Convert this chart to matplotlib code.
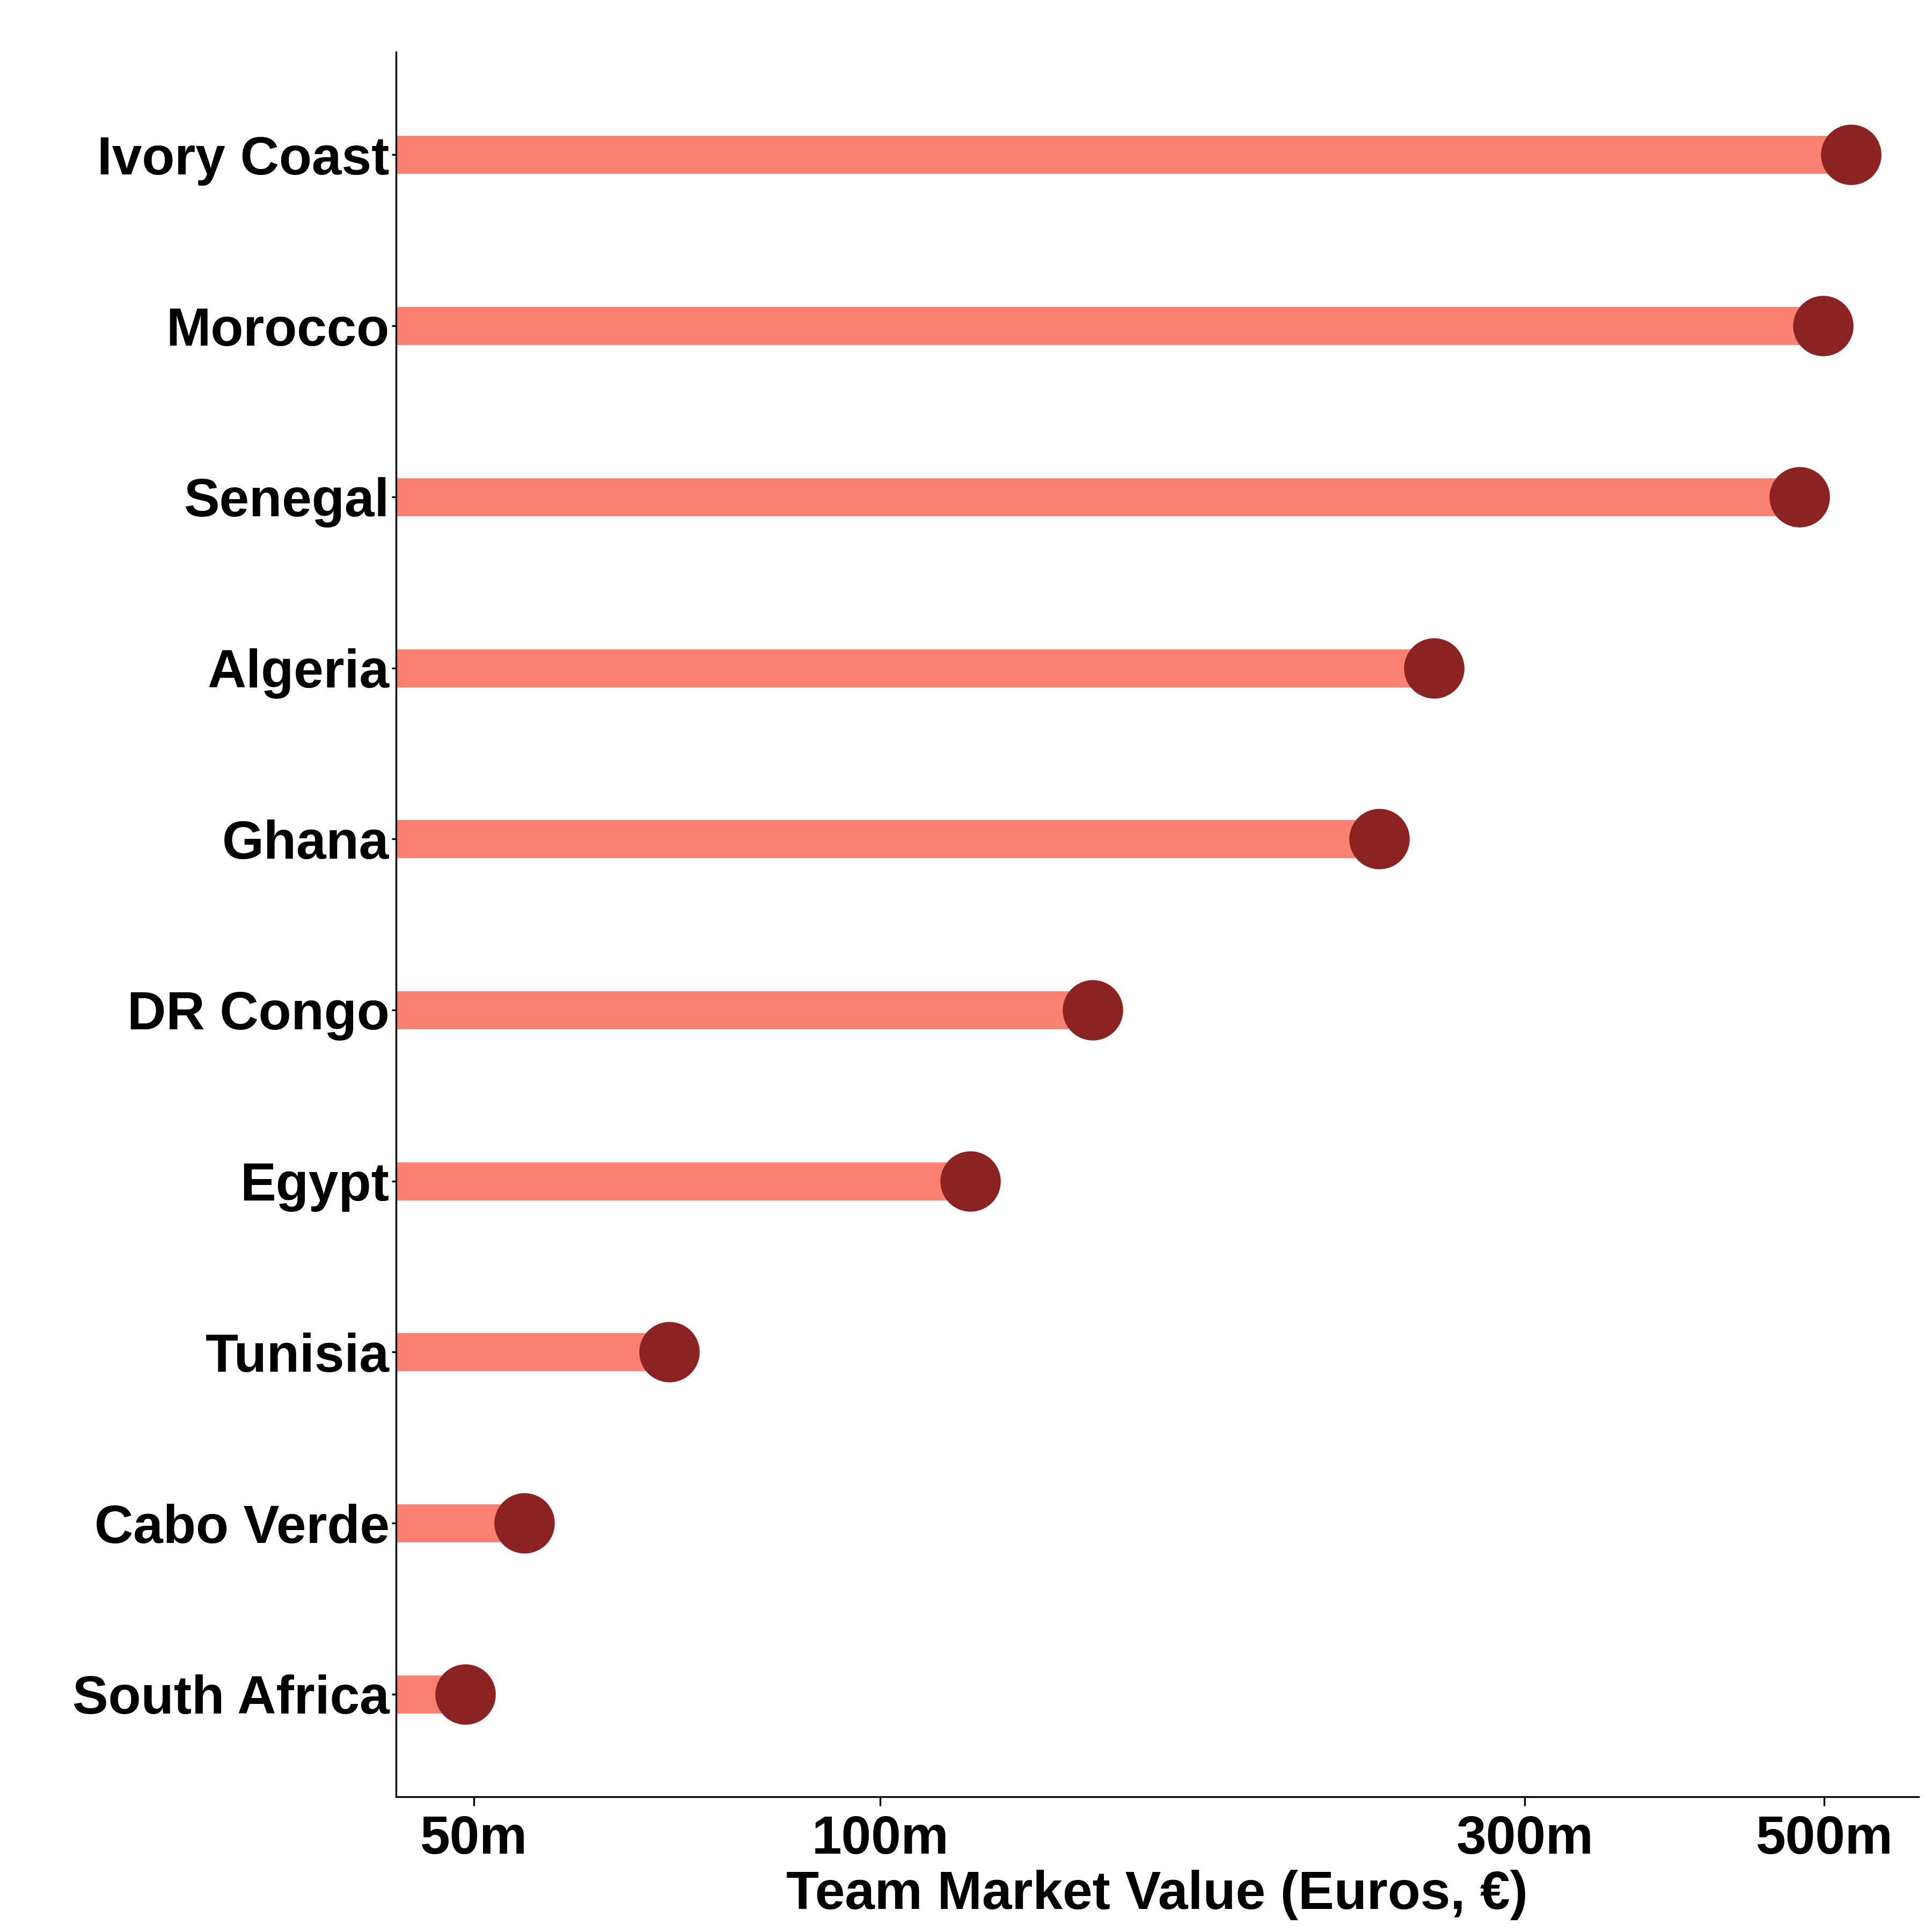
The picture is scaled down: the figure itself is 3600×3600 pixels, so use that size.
import matplotlib
matplotlib.use("Agg")
import matplotlib.pyplot as plt
from matplotlib.ticker import FixedLocator, FixedFormatter, NullLocator

# Данные
countries = ["Ivory Coast", "Morocco", "Senegal", "Algeria", "Ghana",
             "DR Congo", "Egypt", "Tunisia", "Cabo Verde", "South Africa"]
values_m = [523, 499, 479, 257, 234, 143.6, 116.6, 69.8, 54.5, 49.3]

tick_vals = [50, 100, 300, 500]
tick_labels = ["50m", "100m", "300m", "500m"]

plt.rcParams["font.family"] = ["Liberation Sans", "DejaVu Sans"]
plt.rcParams["font.weight"] = "bold"

fig = plt.figure(figsize=(12, 12), dpi=300)
ax = fig.add_axes([0.205, 0.070, 0.788, 0.903])

ax.set_xscale("log")
x_left = 43.8
ax.set_xlim(x_left, 587)

n = len(countries)
ypos = [n - 1 - i for i in range(n)]

ax.hlines(ypos, x_left, values_m, color="#FA8072", linewidth=17, zorder=2)
ax.plot(values_m, ypos, "o", color="#8B2323", markersize=27, zorder=3,
        markeredgewidth=0)

ax.set_ylim(-0.6, n - 1 + 0.6)
ax.set_yticks(ypos)
ax.set_yticklabels(countries, fontsize=24, fontweight="bold")

ax.xaxis.set_major_locator(FixedLocator(tick_vals))
ax.xaxis.set_major_formatter(FixedFormatter(tick_labels))
ax.xaxis.set_minor_locator(NullLocator())
for lab in ax.get_xticklabels():
    lab.set_fontsize(24)
    lab.set_fontweight("bold")

ax.set_xlabel("Team Market Value (Euros, €)", fontsize=24, fontweight="bold",
              labelpad=2)

ax.spines["top"].set_visible(False)
ax.spines["right"].set_visible(False)
ax.spines["left"].set_linewidth(0.8)
ax.spines["bottom"].set_linewidth(0.8)
ax.tick_params(axis="y", length=2, width=0.8, pad=1)
ax.tick_params(axis="x", length=4, width=0.8, pad=4)

fig.savefig("out.png", dpi=300, facecolor="white")
